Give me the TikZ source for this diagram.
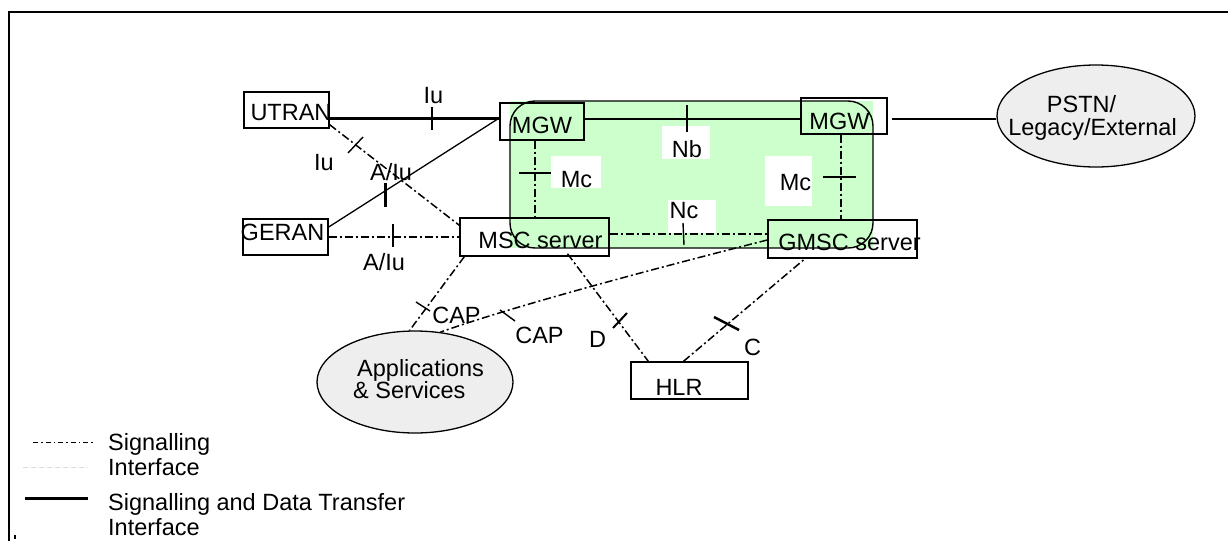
\documentclass[tikz,border=0pt]{standalone}
\usepackage{fontspec}
\setmainfont{Liberation Sans}
\usetikzlibrary{calc,shapes.geometric}
\definecolor{grn}{HTML}{CCFFCC}
\definecolor{ellfill}{HTML}{EEEEEE}
\begin{document}
\begin{tikzpicture}[x=1pt,y=-1pt,
 box/.style={draw, line width=1.4pt, inner sep=0pt, rectangle},
 ell/.style={draw, line width=1.3pt, ellipse, fill=ellfill, inner sep=0pt},
 lbl/.style={anchor=base, inner sep=0pt, font=\fontsize{23.5}{21}\selectfont},
 lbll/.style={anchor=base west, inner sep=0pt, font=\fontsize{23.5}{21}\selectfont},
 sig/.style={line width=1.5pt, dash pattern=on 8pt off 3pt on 2pt off 3pt},
 thinline/.style={line width=1.3pt},
 tickmark/.style={line width=1.4pt},
 wbox/.style={fill=white}
]
\useasboundingbox (0,0) rectangle (1228,541);
% frame
\draw[line width=2pt] (9,541) -- (9,12) -- (1228,12);
\fill (14,535) rectangle (16,539);
% green area
\fill[grn] (510,101) rectangle (873,248);
\draw[line width=1.4pt, rounded corners=25pt] (510,101) rectangle (873,248);
% white label backgrounds
\fill[wbox] (662,126) rectangle (710,159);
\fill[wbox] (551,156) rectangle (601,188);
\fill[wbox] (765,156) rectangle (812,206);
\fill[wbox] (668,200) rectangle (716,233);
% boxes
\node[box, minimum width=85pt, minimum height=36pt] (utran) at (286.5,110) {};
\node[box, minimum width=85pt, minimum height=36pt] (geran) at (285.5,237) {};
\node[box, minimum width=149pt, minimum height=38pt] (msc) at (534.5,237) {};
\node[box, minimum width=84pt, minimum height=37pt] (mgw1) at (542,121.5) {};
\node[box, minimum width=86pt, minimum height=36pt] (mgw2) at (844,116) {};
\node[box, minimum width=149pt, minimum height=38pt] (gmsc) at (842.5,239) {};
\node[box, minimum width=117pt, minimum height=37pt] (hlr) at (689.5,380.5) {};
\node[ell, minimum width=196pt, minimum height=102pt] (apps) at (415,382) {};
\node[ell, minimum width=198pt, minimum height=102pt] (pstn) at (1096,116) {};
% connectors
\coordinate (mgwin) at ($(mgw1.west)+(0,-3.5)$);
\draw[line width=3pt] ($(utran.east)+(0,8)$) -- (mgwin);
\draw[thinline] ($(geran.east)+(0,-10)$) -- (mgwin);
\draw[sig] ($(utran.south east)+(0,-4)$) -- ($(msc.north west)+(0,8)$);
\draw[sig] (geran.east) -- (msc.west);
\draw[thinline] ($(mgw1.east)+(0,-2.5)$) -- ($(mgw2.west)+(0,3)$);
\coordinate (mcl) at ($(mgw1.south)+(-7,0)$);
\draw[sig] (mcl) -- (mcl |- msc.north);
\coordinate (mcr) at ($(mgw2.south)+(-3,0)$);
\draw[sig] (mcr) -- (mcr |- gmsc.north);
\draw[sig, line width=2.2pt] ($(msc.east)+(0,-3)$) -- ($(gmsc.west)+(0,-5)$);
\draw[thinline] ($(mgw2.east)+(4,3)$) -- ($(pstn.west)+(0,3)$);
\draw[sig] ($(msc.south west)+(5,0)$) -- (apps.96);
\draw[sig] ($(gmsc.west)+(0,1)$) .. controls (700,257) and (525,302) .. (apps.63);
\draw[sig] ($(msc.south)+(33,-3)$) -- ($(hlr.north west)+(18,0)$);
\draw[sig] ($(hlr.north)+(-6,0)$) -- ($(gmsc.south)+(-37.5,0)$);
% ticks
\draw[line width=2.5pt] (432,107) -- (432,130);
\draw[line width=3pt] (385,183) -- (385,207);
\draw[tickmark] (348,153) -- (363,137);
\draw[line width=2pt] (393,224) -- (393,247);
\draw[tickmark] (687,105) -- (687,132);
\draw[line width=1.5pt] (519,173) -- (551,173);
\draw[line width=2.5pt] (823,177) -- (856,177);
\draw[tickmark] (683,223) -- (684,245);
\draw[tickmark] (416,302) -- (430,311);
\draw[tickmark] (500,310) -- (515,321);
\draw[line width=2pt] (613,328) -- (627,313);
\draw[line width=2.5pt] (714,317) -- (739,330);
% texts
\node[lbl] (tiu1) at (433.5,103) {Iu};
\node[lbl] (tiu2) at (324,170) {Iu};
\node[lbl] (tai1) at (391,180) {A/Iu};
\node[lbl] (tai2) at (384,270) {A/Iu};
\node[lbl] (tnb) at (687,157) {Nb};
\node[lbl] (tmc1) at (576.5,187) {Mc};
\node[lbl] (tmc2) at (795.5,190) {Mc};
\node[lbl] (tnc) at (684,218) {Nc};
\node[lbl] (tcap1) at (456.5,323) {CAP};
\node[lbl] (tcap2) at (539.5,343) {CAP};
\node[lbl] (td) at (597.5,347) {D};
\node[lbl] (tc) at (752.5,355) {C};
\node[lbl] (thlr) at (679,395) {HLR};
\node[lbl] (tutran) at (291,120) {UTRAN};
\node[lbl] (tgeran) at (282.5,240) {GERAN};
\node[lbl] (tmsc) at (540.5,248) {MSC server};
\node[lbl] (tgmsc) at (849.5,250) {GMSC server};
\node[lbl] (tmgw1) at (542,133) {MGW};
\node[lbl] (tmgw2) at (839.5,129) {MGW};
\node[lbl] (tpstn1) at (1081.5,112) {PSTN/};
\node[lbl] (tpstn2) at (1092.5,135) {Legacy/External};
\node[lbll] (tapp1) at (357,376) {Applications};
\node[lbll] (tapp2) at (353,398) {\& Services};
% legend
\draw[line width=1pt, dash pattern=on 5pt off 3pt on 1.5pt off 3pt] (33,442) -- (95,442);
\draw[line width=1pt, black!15, dash pattern=on 5pt off 3pt] (23,467) -- (88,467);
\draw[line width=3pt] (25,498) -- (88,498);
\node[lbll] (tleg1) at (108,450) {Signalling};
\node[lbll] (tleg2) at (108,475) {Interface};
\node[lbll] (tleg3) at (108,510) {Signalling and Data Transfer};
\node[lbll] (tleg4) at (108,535) {Interface};
\end{tikzpicture}
\end{document}
